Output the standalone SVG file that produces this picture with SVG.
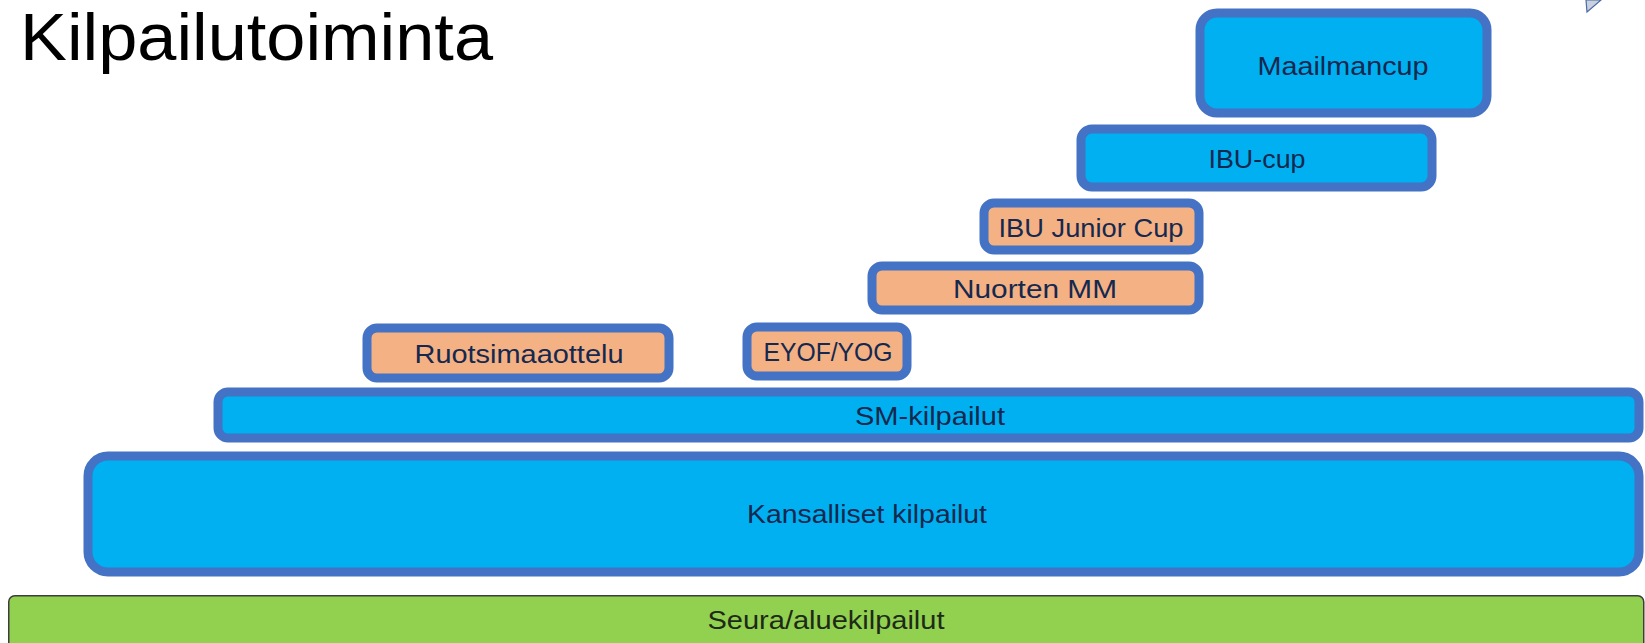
<svg xmlns="http://www.w3.org/2000/svg" width="1645" height="643" viewBox="0 0 1645 643">
<style>
.box{stroke:#4472C4;stroke-width:9}
.blue{fill:#00B0F0}
.orange{fill:#F4B183}
.green{fill:#92D050;stroke:#3d3d3d;stroke-width:1.5}
.lbl{font-family:"Liberation Sans",Arial,sans-serif;font-size:25px;fill:#15284f;text-anchor:middle}
.lbl2{font-family:"Liberation Sans",Arial,sans-serif;font-size:25px;fill:#1e2a18;text-anchor:middle}
.title{font-family:"Liberation Sans",Arial,sans-serif;font-size:66px;fill:#000}
</style>
<rect width="1645" height="643" fill="#fff"/>
<text class="title" x="20" y="60" textLength="473" lengthAdjust="spacingAndGlyphs">Kilpailutoiminta</text>
<polygon points="1586,0 1601,0 1587,12" fill="#c9d1de" stroke="#4a6aa8" stroke-width="1.2"/>
<g id="connectors"/>
<g id="seura">
<rect class="green" x="8.75" y="595.75" width="1635" height="60" rx="6"/>
<text class="lbl2" x="826" y="629" textLength="237" lengthAdjust="spacingAndGlyphs">Seura/aluekilpailut</text>
</g>
<g id="kansalliset">
<rect class="box blue" x="88" y="456" width="1551" height="116" rx="20"/>
<text class="lbl" x="867" y="523" textLength="240" lengthAdjust="spacingAndGlyphs">Kansalliset kilpailut</text>
</g>
<g id="sm">
<rect class="box blue" x="218" y="392" width="1421" height="46" rx="10"/>
<text class="lbl" x="930" y="425" textLength="150" lengthAdjust="spacingAndGlyphs">SM-kilpailut</text>
</g>
<g id="ruotsimaaottelu">
<rect class="box orange" x="367" y="328" width="302" height="50" rx="10"/>
<text class="lbl" x="519" y="363" textLength="209" lengthAdjust="spacingAndGlyphs">Ruotsimaaottelu</text>
</g>
<g id="eyof">
<rect class="box orange" x="747" y="327" width="160" height="49" rx="10"/>
<text class="lbl" x="828" y="361" textLength="129" lengthAdjust="spacingAndGlyphs">EYOF/YOG</text>
</g>
<g id="nuorten-mm">
<rect class="box orange" x="872" y="266" width="327" height="44" rx="10"/>
<text class="lbl" x="1035" y="298" textLength="164" lengthAdjust="spacingAndGlyphs">Nuorten MM</text>
</g>
<g id="ibu-junior-cup">
<rect class="box orange" x="984" y="203" width="215" height="47" rx="10"/>
<text class="lbl" x="1091" y="237" textLength="185" lengthAdjust="spacingAndGlyphs">IBU Junior Cup</text>
</g>
<g id="ibu-cup">
<rect class="box blue" x="1081" y="129" width="351" height="58" rx="11"/>
<text class="lbl" x="1257" y="168" textLength="97" lengthAdjust="spacingAndGlyphs">IBU-cup</text>
</g>
<g id="maailmancup">
<rect class="box blue" x="1200" y="13" width="287" height="100" rx="17"/>
<text class="lbl" x="1343" y="75" textLength="171" lengthAdjust="spacingAndGlyphs">Maailmancup</text>
</g>
</svg>
